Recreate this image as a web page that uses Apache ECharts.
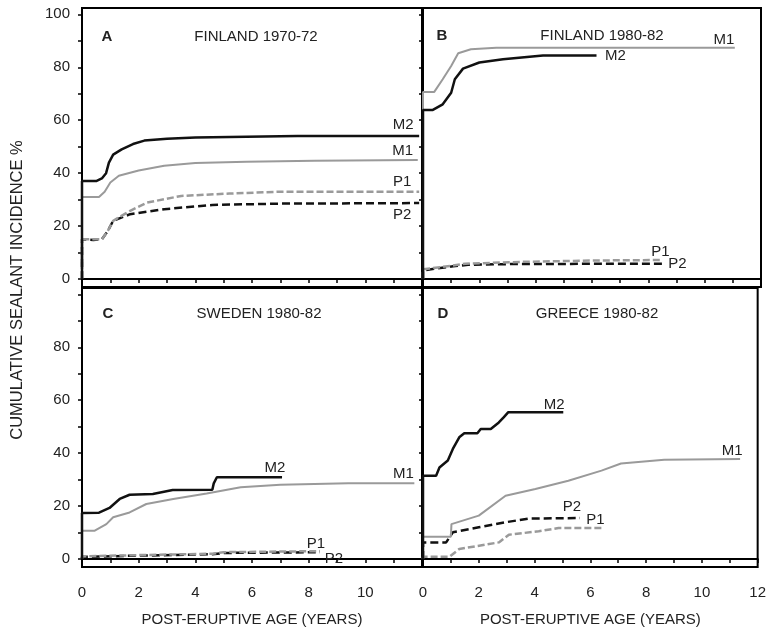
<!DOCTYPE html>
<html lang="en">
<head>
    <meta charset="UTF-8">
    <title>Cumulative sealant incidence</title>
    <script src="https://cdn.jsdelivr.net/npm/echarts@6/dist/echarts.min.js"></script>
</head>
<body style="margin:0">
<div id="main" style="width: 769px;height:629px;"></div>
<script>
    // tick labels
    var yLabelsTop = [0, 20, 40, 60, 80, 100];
    var yLabelsBottom = [0, 20, 40, 60, 80];
    var yTicks = [0, 10, 20, 30, 40, 50, 60, 70, 80, 90, 100];
    var xLabelsC = [0, 2, 4, 6, 8, 10];
    var xLabelsD = [0, 2, 4, 6, 8, 10, 12];

    // A  FINLAND 1970-72
    var aM2 = [[0,0],[0,37],[0.5,37],[0.7,38],[0.85,40],[0.95,44],[1.1,47],[1.4,49],[1.8,51],[2.2,52.3],[3,53],[4,53.5],[7.6,54],[11.9,54]];
    var aM1 = [[0,0],[0,31],[0.6,31],[0.8,33],[1.0,36.5],[1.3,39],[2.0,41],[2.9,42.8],[4,43.8],[5.8,44.3],[8.2,44.7],[11.85,45]];
    var aP1 = [[0,0],[0,15],[0.7,15],[0.9,18],[1.1,22],[1.7,25.8],[2.3,28.9],[3.5,31.4],[5.2,32.3],[7,33],[11.9,33]];
    var aP2 = [[0,0],[0,15],[0.4,14.8],[0.7,15],[0.9,18],[1.1,22],[1.7,24.5],[2.9,26.4],[4.6,28],[7,28.5],[11.9,28.7]];

    // B  FINLAND 1980-82
    var bM1 = [[0,0],[0,70.7],[0.4,70.7],[0.7,75.5],[1.0,80.5],[1.25,85.3],[1.7,86.8],[2.6,87.4],[11.07,87.4]];
    var bM2 = [[0,0],[0,63.9],[0.35,63.9],[0.7,66],[1.0,70.4],[1.13,75.5],[1.42,79.5],[2.0,81.8],[2.84,83],[4.26,84.5],[6.16,84.5]];
    var bP1 = [[0,0],[0,3.7],[1.0,5],[1.5,5.8],[3.5,6.5],[6,7],[8.5,7.2]];
    var bP2 = [[0,0],[0,3.3],[1.07,4.8],[1.6,5.4],[3.4,5.7],[8.5,5.8]];

    // C  SWEDEN 1980-82
    var cM2 = [[0,0],[0,17.4],[0.6,17.5],[0.97,19.3],[1.33,22.7],[1.68,24.3],[2.5,24.6],[3.2,26.1],[4.6,26.2],[4.65,28.6],[4.76,30.9],[7.06,30.9]];
    var cM1 = [[0,0],[0,10.7],[0.45,10.7],[0.86,13.2],[1.1,15.8],[1.68,17.6],[2.27,20.8],[3.22,22.7],[4.4,24.8],[5.6,27.1],[7,28.1],[9.4,28.6],[11.73,28.6]];
    var cP1 = [[0,0],[0,1.0],[2,1.5],[4.6,2.0],[5,2.6],[8.4,3.0]];
    var cP2 = [[0,0],[0,0.8],[2,1.3],[4.6,1.8],[5,2.3],[8.4,2.6]];

    // D  GREECE 1980-82
    var dM2 = [[0,0],[0,31.5],[0.47,31.5],[0.59,34.6],[0.89,37.2],[1.07,41.6],[1.3,46],[1.48,47.5],[1.95,47.5],[2.07,49.1],[2.43,49.1],[2.72,51.6],[2.9,53.6],[3.06,55.5],[5.03,55.5]];
    var dM1 = [[0,0],[0,8.4],[1.0,8.4],[1.02,13.2],[2.0,16.4],[2.96,23.9],[4.03,26.5],[5.21,29.6],[6.4,33.4],[7.1,36.1],[8.65,37.5],[11.37,37.8]];
    var dP2 = [[0,0],[0,6.3],[0.83,6.3],[1.07,10.1],[2.0,12],[2.96,13.9],[3.8,15.3],[5.63,15.5]];
    var dP1 = [[0,0],[0,0.9],[0.95,0.9],[1.3,3.8],[2.72,6.3],[3.08,9.2],[4.15,10.5],[4.86,11.7],[6.4,11.7]];

    var FONT = 'Liberation Sans, Arial, sans-serif';
    var TXT = '#222';
    var GRAY = '#9a9a9a';

    var styles = {
        M2: {color: '#111', width: 2.5, type: 'solid'},
        M1: {color: GRAY, width: 2, type: 'solid'},
        P2: {color: '#111', width: 2.5, type: [8, 4]},
        P1: {color: GRAY, width: 2.5, type: [7, 3]}
    };

    function line(idx, data, name, off) {
        var s = styles[name];
        return {
            type: 'line', name: name, data: data,
            xAxisIndex: idx, yAxisIndex: idx,
            showSymbol: false, symbol: 'none',
            lineStyle: {color: s.color, width: s.width, type: s.type},
            endLabel: {
                show: true, formatter: name,
                position: 'top', distance: 0,
                align: 'center', verticalAlign: 'middle',
                offset: off, fontSize: 15, fontFamily: FONT, color: TXT
            },
            z: name.charAt(0) === 'M' ? 3 : 2
        };
    }

    var grids = [
        {left: 82, top: 8, width: 340, height: 279},
        {left: 423, top: 8, width: 338, height: 279},
        {left: 82, top: 288, width: 340, height: 279},
        {left: 423, top: 288, width: 338, height: 279}
    ];
    grids.forEach(function (g) {
        g.show = true; g.borderColor = '#000'; g.borderWidth = 2;
        g.containLabel = false;
    });

    function xAxis(idx, labels) {
        return {
            type: 'value', gridIndex: idx, min: 0, max: 12, interval: 1,
            axisLine: {show: true, lineStyle: {color: '#000', width: 2}},
            axisTick: {show: true, length: 4, lineStyle: {color: '#000', width: 1.5}},
            axisLabel: labels ? {
                show: true, customValues: labels, margin: 18,
                fontSize: 15, fontFamily: FONT, color: TXT
            } : {show: false},
            splitLine: {show: false},
            name: labels ? 'POST-ERUPTIVE AGE (YEARS)' : '',
            nameLocation: 'middle', nameGap: 45,
            nameTextStyle: {fontSize: 15, fontFamily: FONT, color: TXT}
        };
    }

    function yAxis(idx, labels) {
        return {
            type: 'value', gridIndex: idx, min: -3, max: 102.4,
            axisLine: {show: true, lineStyle: {color: '#000', width: 2}},
            axisTick: {show: true, length: 4, customValues: yTicks, lineStyle: {color: '#000', width: 1.5}},
            axisLabel: labels ? {
                show: true, customValues: labels, margin: 12,
                fontSize: 15, fontFamily: FONT, color: TXT
            } : {show: false},
            splitLine: {show: false}
        };
    }

    function text(x, y, str, bold) {
        return {
            type: 'text', x: x, y: y,
            style: {
                text: str, fontSize: 15, fontFamily: FONT, fill: TXT,
                fontWeight: bold ? 'bold' : 'normal',
                textAlign: 'center', textVerticalAlign: 'middle'
            }
        };
    }

    var chart = echarts.init(document.getElementById('main'));
    chart.setOption({
        animation: false,
        backgroundColor: '#fff',
        grid: grids,
        xAxis: [xAxis(0, null), xAxis(1, null), xAxis(2, xLabelsC), xAxis(3, xLabelsD)],
        yAxis: [yAxis(0, yLabelsTop), yAxis(1, null), yAxis(2, yLabelsBottom), yAxis(3, null)],
        graphic: [
            text(107, 37, 'A', true),
            text(256, 37, 'FINLAND 1970-72'),
            text(442, 36, 'B', true),
            text(602, 36, 'FINLAND 1980-82'),
            text(108, 314, 'C', true),
            text(259, 314, 'SWEDEN 1980-82'),
            text(443, 314, 'D', true),
            text(597, 314, 'GREECE 1980-82'),
            {
                type: 'text', x: 17, y: 290, rotation: Math.PI / 2,
                style: {
                    text: 'CUMULATIVE SEALANT INCIDENCE %', fontSize: 16.5,
                    fontFamily: FONT, fill: TXT,
                    textAlign: 'center', textVerticalAlign: 'middle'
                }
            }
        ],
        series: [
            line(0, aP2, 'P2', [-17, 12]),
            line(0, aP1, 'P1', [-17, -10]),
            line(0, aM1, 'M1', [-15, -9]),
            line(0, aM2, 'M2', [-16, -11]),

            line(1, bP2, 'P2', [15, 0]),
            line(1, bP1, 'P1', [-2, -8]),
            line(1, bM1, 'M1', [-11, -8]),
            line(1, bM2, 'M2', [19, 0]),

            line(2, cP2, 'P2', [14, 7]),
            line(2, cP1, 'P1', [-4, -7]),
            line(2, cM1, 'M1', [-11, -9]),
            line(2, cM2, 'M2', [-7, -9]),

            line(3, dP2, 'P2', [-8, -11]),
            line(3, dP1, 'P1', [-6, -8]),
            line(3, dM1, 'M1', [-8, -8]),
            line(3, dM2, 'M2', [-9, -7])
        ]
    });
</script>
</body>
</html>
